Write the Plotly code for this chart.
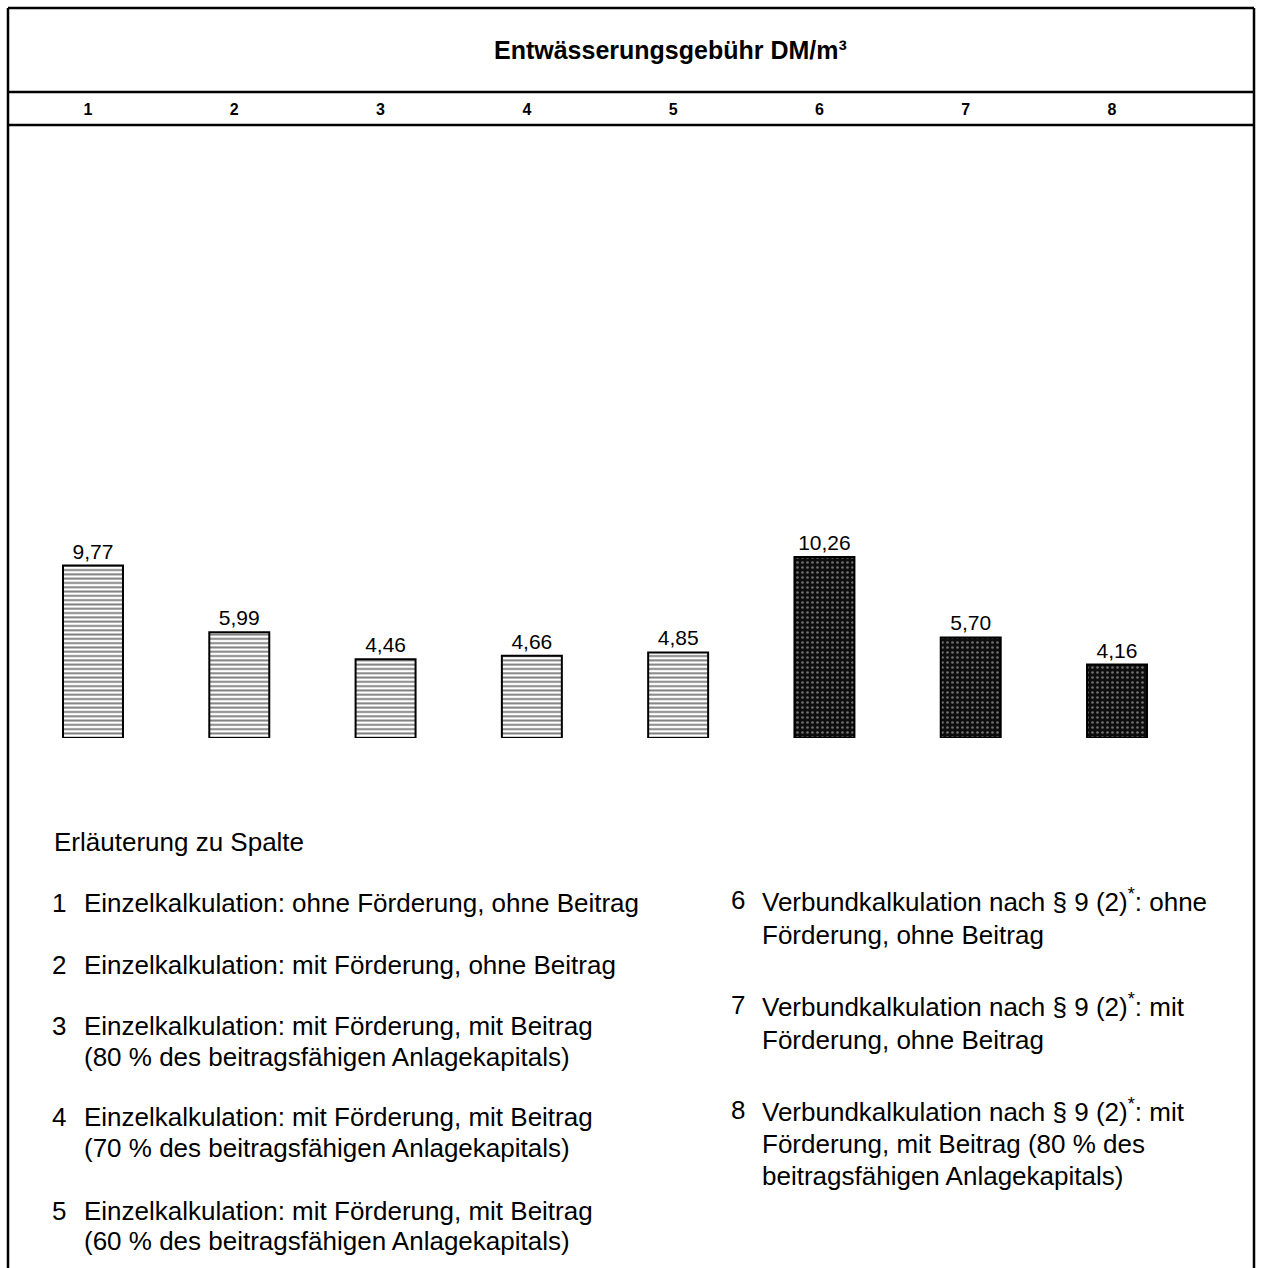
import plotly.graph_objects as go

# ---- data ----
columns = [1, 2, 3, 4, 5, 6, 7, 8]
column_labels = ["1", "2", "3", "4", "5", "6", "7", "8"]
fee_values = [9.77, 5.99, 4.46, 4.66, 4.85, 10.26, 5.70, 4.16]
single_cols = columns[:5]
single_vals = fee_values[:5]
network_cols = columns[5:]
network_vals = fee_values[5:]

title_text = "Entwässerungsgebühr DM/m³"
legend_heading = "Erläuterung zu Spalte"
legend_left_numbers = ["1", "2", "3", "4", "5"]
legend_left_lines = [
    ["Einzelkalkulation: ohne Förderung, ohne Beitrag"],
    ["Einzelkalkulation: mit Förderung, ohne Beitrag"],
    ["Einzelkalkulation: mit Förderung, mit Beitrag",
     "(80 % des beitragsfähigen Anlagekapitals)"],
    ["Einzelkalkulation: mit Förderung, mit Beitrag",
     "(70 % des beitragsfähigen Anlagekapitals)"],
    ["Einzelkalkulation: mit Förderung, mit Beitrag",
     "(60 % des beitragsfähigen Anlagekapitals)"],
]
legend_right_numbers = ["6", "7", "8"]
legend_right_lines = [
    ["Verbundkalkulation nach § 9 (2)<sup>*</sup>: ohne", "Förderung, ohne Beitrag"],
    ["Verbundkalkulation nach § 9 (2)<sup>*</sup>: mit", "Förderung, ohne Beitrag"],
    ["Verbundkalkulation nach § 9 (2)<sup>*</sup>: mit", "Förderung, mit Beitrag (80 % des",
     "beitragsfähigen Anlagekapitals)"],
]

# ---- layout positions (pixels) ----
W, H = 1264, 1268
FONT = "Arial, Liberation Sans, sans-serif"
left_line_y = [[903], [965], [1026, 1057], [1117, 1148], [1211, 1241]]
right_line_y = [[900, 935], [1005, 1040], [1110, 1144, 1176]]


def px(x):
    return x / W


def py(y):
    return 1 - y / H


fig = go.Figure()

fig.add_trace(go.Bar(
    x=single_cols, y=single_vals, width=0.41,
    marker=dict(color="white", line=dict(color="black", width=2),
                pattern=dict(shape="-", fgcolor="black", bgcolor="white",
                             size=4.3, solidity=0.45)),
    texttemplate="%{y:.2f}", textposition="outside",
    textfont=dict(size=21, color="black", family=FONT),
    cliponaxis=False, showlegend=False, hoverinfo="skip",
))
fig.add_trace(go.Bar(
    x=network_cols, y=network_vals, width=0.41,
    marker=dict(color="#0d0d0d", line=dict(color="black", width=2),
                pattern=dict(shape=".", fgcolor="#d0d0d0", bgcolor="#0d0d0d",
                             size=5, solidity=0.22)),
    texttemplate="%{y:.2f}", textposition="outside",
    textfont=dict(size=21, color="black", family=FONT),
    cliponaxis=False, showlegend=False, hoverinfo="skip",
))

unit = 146.3
x_left = 1 - 93 / unit
x_right = 8 + (W - 1117) / unit
scale = 17.65

fig.update_layout(
    width=W, height=H, margin=dict(l=0, r=0, t=0, b=0),
    paper_bgcolor="white", plot_bgcolor="white",
    barmode="overlay", separators=", ",
    font=dict(family=FONT, color="black"),
    xaxis=dict(domain=[0, 1], range=[x_left, x_right], side="top",
               tickvals=columns, ticktext=column_labels,
               tickfont=dict(size=16, family=FONT, color="black", weight="bold"),
               showgrid=False, zeroline=False, showline=False, ticks="",
               ticklabelstandoff=6, ticklabelshift=-5, fixedrange=True),
    yaxis=dict(domain=[py(738), py(125)], range=[0, (738 - 125) / scale],
               visible=False, fixedrange=True),
)

# frame lines
line = dict(color="black", width=2.5)
for (x0, y0, x1, y1) in [(8, 8, 1254, 8), (8, 92, 1254, 92), (8, 125, 1254, 125),
                         (8, 8, 8, H), (1254, 8, 1254, H)]:
    fig.add_shape(type="line", xref="paper", yref="paper",
                  x0=px(x0), y0=py(y0), x1=px(x1), y1=py(y1), line=line)

fig.add_annotation(text=title_text, xref="paper", yref="paper",
                   x=px(670), y=py(50), xanchor="center", yanchor="middle",
                   showarrow=False,
                   font=dict(size=25, family=FONT, color="black", weight="bold"))

ann_font = dict(size=26, family=FONT, color="black")


def add_text(txt, x, y):
    fig.add_annotation(text=txt, xref="paper", yref="paper", x=px(x), y=py(y),
                       xanchor="left", yanchor="middle", align="left",
                       showarrow=False, font=ann_font)


add_text(legend_heading, 52, 842)

for num, lines, ys in zip(legend_left_numbers, legend_left_lines, left_line_y):
    add_text(num, 50, ys[0])
    for ln, y in zip(lines, ys):
        add_text(ln, 82, y)

for num, lines, ys in zip(legend_right_numbers, legend_right_lines, right_line_y):
    add_text(num, 729, ys[0])
    for ln, y in zip(lines, ys):
        add_text(ln, 760, y)

fig.write_html("out.html", post_script="document.body.style.margin='0';",
               config={"displayModeBar": False})
